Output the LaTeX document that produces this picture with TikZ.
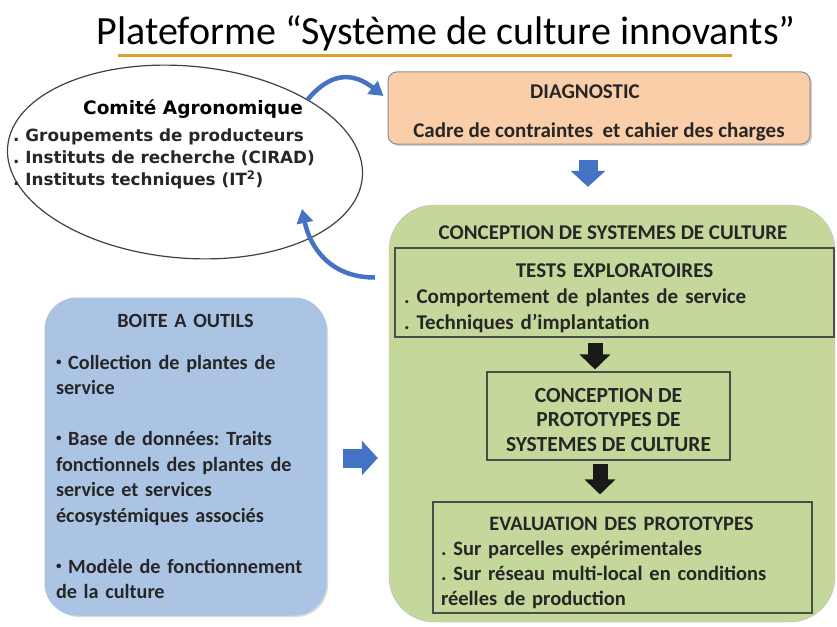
\documentclass[tikz,border=0pt]{standalone}
\usepackage{fontspec}
\setmainfont{Carlito}
\newfontfamily\comitefont{DejaVu Sans}
\usepackage{tikz}
\usetikzlibrary{arrows.meta}
\usetikzlibrary{shapes.geometric,shadows}
\frenchspacing

\definecolor{diagfill}{RGB}{251,206,170}
\definecolor{greenfill}{RGB}{197,216,155}
\definecolor{bluefill}{RGB}{172,196,228}
\definecolor{arrowblue}{RGB}{68,114,196}
\definecolor{goldline}{RGB}{222,160,40}

\newcommand{\smallbullet}{\raisebox{0.2em}{\fontsize{11}{11}\selectfont•}}

\begin{document}
\begin{tikzpicture}[x=1pt,y=-1pt,
    txt/.style={font=\bfseries\fontsize{21}{26}\selectfont, text=black!85},
    innerbox/.style={draw=black!70, line width=1.1pt, fill=greenfill, inner sep=0pt},
    bigarrow/.style={line width=19pt, arrowblue, -{Triangle[width=34pt,length=16pt]}},
    blackarrow/.style={line width=15pt, black!90, -{Triangle[width=30pt,length=15pt]}},
    curvearrow/.style={line width=4.5pt, arrowblue, -{Triangle[width=16pt,length=14pt]}}]
  \useasboundingbox (0,0) rectangle (837,626);

  % title
  \node[anchor=base, font=\fontsize{40}{44}\selectfont] (title) at (446,45)
       {Plateforme “Système de culture innovants”};
  \draw[goldline, line width=3pt] (118,56) -- (732,56);

  % comite
  \node[draw=black!75, line width=1.2pt, ellipse, minimum width=356pt,
        minimum height=192pt, rotate=-5] (comite) at (185,162) {};
  \node[anchor=base, font=\comitefont\bfseries\fontsize{18.5}{22}\selectfont]
       (comitetitle) at (193,114) {Comité Agronomique};
  \node[anchor=north west, align=left, inner sep=0pt, text=black!85,
        font=\comitefont\bfseries\fontsize{16.8}{22}\selectfont] (comitelist) at (13,129)
       {. Groupements de producteurs\\
        . Instituts de recherche (CIRAD)\\
        . Instituts techniques (IT\textsuperscript{2})};

  % diagnostic
  \node[txt, draw=black!45, line width=1pt, fill=diagfill, rounded corners=9pt,
        minimum width=422pt, minimum height=70pt, align=center,
        drop shadow={opacity=0.35, shadow xshift=2pt, shadow yshift=-2pt}]
       (diag) at (599,108)
       {\rule{0pt}{23pt}\hspace*{-28pt}DIAGNOSTIC\\[13pt]Cadre de contraintes \ et cahier des charges};

  % conception
  \node[draw=black!25, fill=greenfill, rounded corners=45pt, inner sep=0pt,
        minimum width=446pt, minimum height=417pt] (concep) at (612,413.5) {};
  \node[txt, anchor=base] (conceptitle) at (613,239) {CONCEPTION DE SYSTEMES DE CULTURE};

  \node[innerbox, txt, minimum width=439pt, minimum height=89pt, align=left,
        text width=421pt] (tests) at (614.5,292.5)
       {\rule{0pt}{26pt}\makebox[421pt]{TESTS EXPLORATOIRES}\\
        . Comportement de plantes de service\\
        . Techniques d’implantation};

  \node[innerbox, txt, minimum width=243pt, minimum height=88pt, align=center,
        font=\bfseries\fontsize{21.5}{24.5}\selectfont] (proto) at (608.5,416)
       {\rule{0pt}{22pt}CONCEPTION DE\\PROTOTYPES DE\\SYSTEMES DE CULTURE};

  \node[innerbox, txt, minimum width=379pt, minimum height=111pt, align=left,
        text width=363pt, font=\bfseries\fontsize{20.5}{25}\selectfont] (eval) at (622.5,557.5)
       {\rule{0pt}{24pt}\makebox[363pt]{\hspace*{-2pt}EVALUATION DES PROTOTYPES}\\
        . Sur parcelles expérimentales\\
        . Sur réseau multi-local en conditions\\
        réelles de production};

  % boite a outils
  \node[txt, draw=arrowblue!45, line width=1pt, fill=bluefill, rounded corners=32pt,
        minimum width=281pt, minimum height=317pt, align=left, text width=259pt,
        font=\bfseries\fontsize{20.2}{25.5}\selectfont,
        drop shadow={opacity=0.3, shadow xshift=2pt, shadow yshift=-2pt}]
       (outils) at (185.5,456.5)
       {\makebox[259pt]{BOITE A OUTILS}\\[16pt]
        \smallbullet\ Collection de plantes de\\
        service\\[25.5pt]
        \smallbullet\ Base de données: Traits\\
        fonctionnels des plantes de\\
        service et services\\
        écosystémiques associés\\[25.5pt]
        \smallbullet\ Modèle de fonctionnement\\
        de la culture};

  % arrows
  \draw[bigarrow] ([shift={(-11,15)}]diag.south) -- ([shift={(-24,-18)}]concep.north);
  \draw[bigarrow] ([shift={(16,1.5)}]outils.east) -- ([shift={(-11,44.5)}]concep.west);
  \draw[blackarrow] ([shift={(-19.5,5)}]tests.south) -- ([shift={(-13.5,-2)}]proto.north);
  \draw[blackarrow] ([shift={(-8.5,3)}]proto.south) -- ([shift={(-22.5,-7)}]eval.north);

  \draw[curvearrow] (comite.32) .. controls +(25,-30) and +(-28,-22) .. ([shift={(-4,-12)}]diag.west);
  \draw[curvearrow] ([shift={(-14,-136)}]concep.west) .. controls +(-45,0) and +(8,38) .. ([shift={(117,47)}]comite.center);
\end{tikzpicture}
\end{document}
